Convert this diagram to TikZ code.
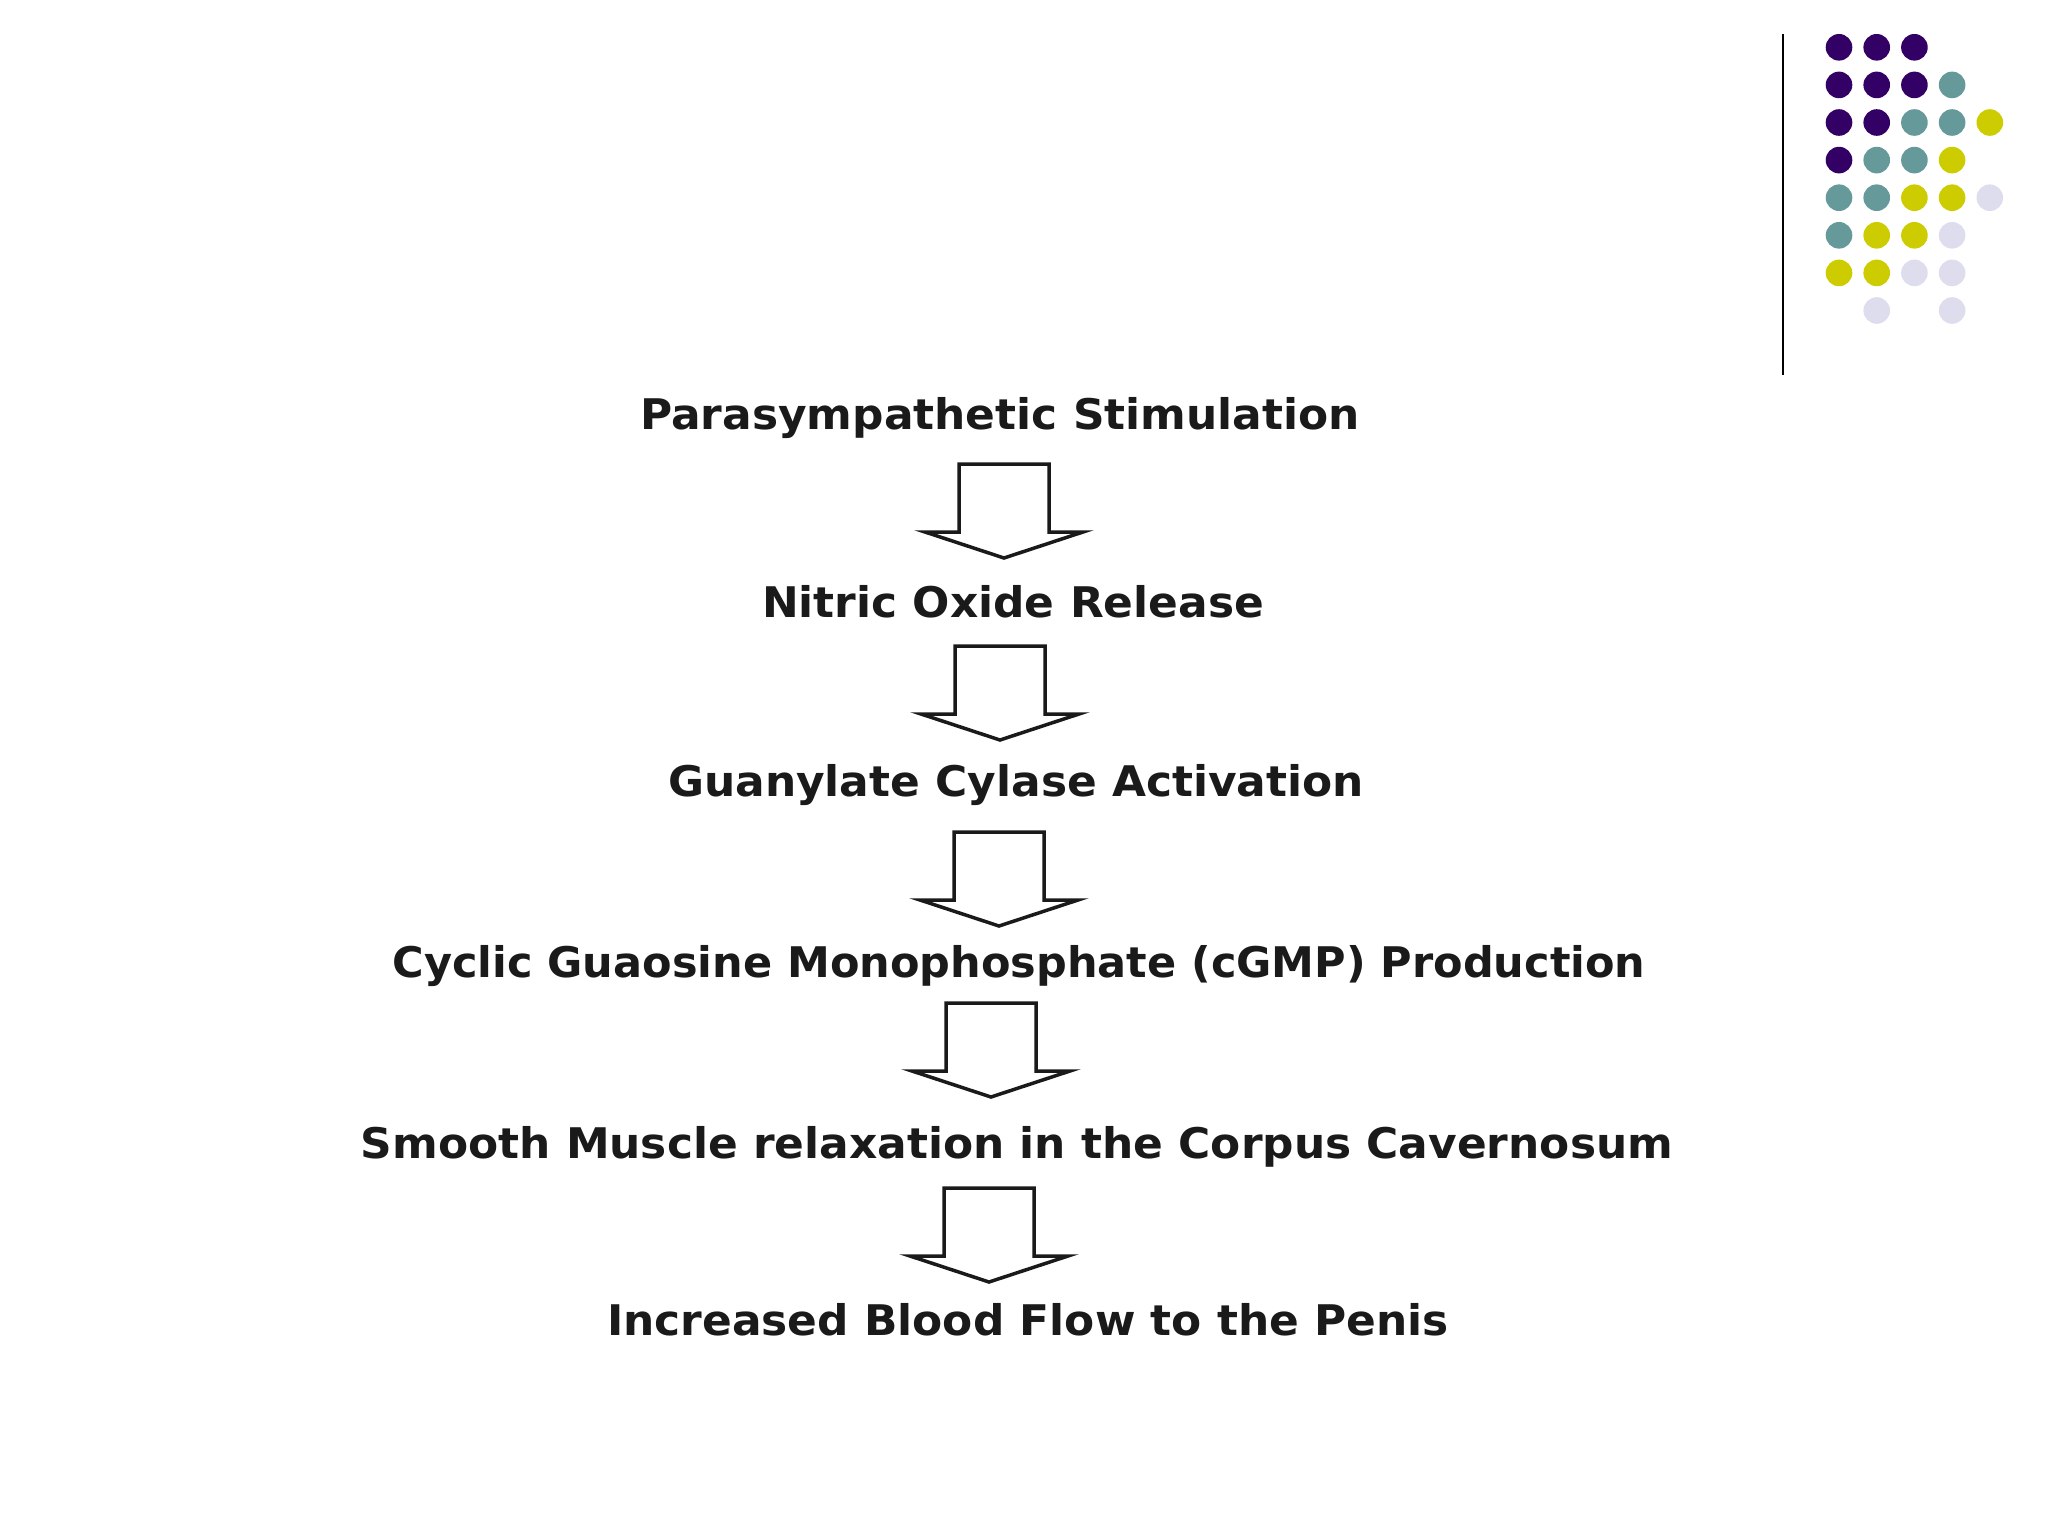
\documentclass[tikz,border=0pt]{standalone}
\usepackage{fontspec}
\setmainfont{DejaVu Sans}

\definecolor{dotpurple}{HTML}{330066}
\definecolor{dotteal}{HTML}{669999}
\definecolor{dotyellow}{HTML}{CCCC00}
\definecolor{dotlilac}{HTML}{DDDDEE}
\definecolor{inkgray}{HTML}{1A1A1A}

\begin{document}
\begin{tikzpicture}[
        x=0.01cm, y=-0.01cm,
        steplabel/.style={font=\fontsize{12}{14}\selectfont\bfseries, text=inkgray, inner sep=0pt, xscale=1.04},
        downarrow/.style={draw=inkgray, line width=0.035cm, fill=white, line join=miter}
    ]
    \useasboundingbox (0,0) rectangle (2048,1536);

    % corner decoration
    \draw[line width=0.02cm, black] (1783,34) -- (1783,375);
    \foreach \r/\c/\col in {0/0/dotpurple,0/1/dotpurple,0/2/dotpurple,
        1/0/dotpurple,1/1/dotpurple,1/2/dotpurple,1/3/dotteal,
        2/0/dotpurple,2/1/dotpurple,2/2/dotteal,2/3/dotteal,2/4/dotyellow,
        3/0/dotpurple,3/1/dotteal,3/2/dotteal,3/3/dotyellow,
        4/0/dotteal,4/1/dotteal,4/2/dotyellow,4/3/dotyellow,4/4/dotlilac,
        5/0/dotteal,5/1/dotyellow,5/2/dotyellow,5/3/dotlilac,
        6/0/dotyellow,6/1/dotyellow,6/2/dotlilac,6/3/dotlilac,
        7/1/dotlilac,7/3/dotlilac}
        \fill[\col] (1839+37.7*\c, 47.3+37.6*\r) circle (0.133cm);

    % cascade
    \node[steplabel] (n1) at (1000,418) {Parasympathetic Stimulation};
    \node[steplabel] (n2) at (1013,602) {Nitric Oxide Release};
    \node[steplabel] (n3) at (1016,785) {Guanylate Cylase Activation};
    \node[steplabel, xscale=0.98] (n4) at (1019,966) {Cyclic Guaosine Monophosphate (cGMP) Production};
    \node[steplabel] (n5) at (1017,1147) {Smooth Muscle relaxation in the Corpus Cavernosum};
    \node[steplabel] (n6) at (1028,1320) {Increased Blood Flow to the Penis};

    % block arrows (top middle of each shaft)
    \coordinate (a1) at (1004,464);
    \coordinate (a2) at (1000,646);
    \coordinate (a3) at (999,832);
    \coordinate (a4) at (991,1003);
    \coordinate (a5) at (989,1188);
    \foreach \a in {a1,a2,a3,a4,a5}
        \draw[downarrow] (\a) ++(-45,0) -- ++(0,68) -- ++(-34,0) -- ++(79,26)
            -- ++(79,-26) -- ++(-34,0) -- ++(0,-68) -- cycle;
\end{tikzpicture}
\end{document}
